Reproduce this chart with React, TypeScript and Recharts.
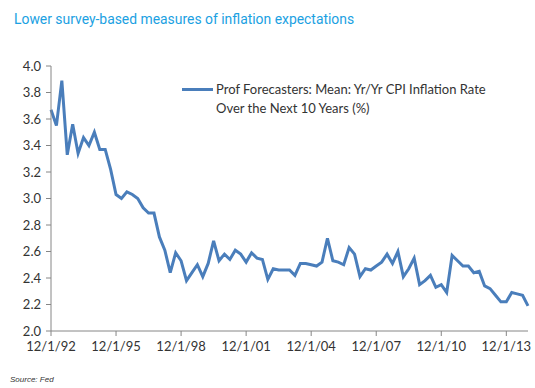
import { LineChart, Line, XAxis, YAxis } from 'recharts';

// SPF mean 10-year CPI inflation expectations, quarterly from 12/1/92
const cpi10: number[] = [
  3.67, 3.55, 3.89, 3.33, 3.56, 3.34, 3.46, 3.4, 3.5, 3.37, 3.37, 3.22,
  3.03, 3.0, 3.05, 3.03, 3.0, 2.93, 2.89, 2.89, 2.71, 2.61, 2.44, 2.59,
  2.53, 2.38, 2.44, 2.5, 2.41, 2.51, 2.68, 2.53, 2.58, 2.54, 2.61, 2.58,
  2.52, 2.59, 2.55, 2.54, 2.39, 2.47, 2.46, 2.46, 2.46, 2.42, 2.51, 2.51,
  2.5, 2.49, 2.52, 2.7, 2.53, 2.52, 2.5, 2.63, 2.58, 2.41, 2.47, 2.46,
  2.49, 2.52, 2.58, 2.51, 2.6, 2.41, 2.47, 2.55, 2.35, 2.38, 2.42, 2.33,
  2.35, 2.29, 2.57, 2.53, 2.49, 2.49, 2.44, 2.45, 2.34, 2.32, 2.27, 2.22,
  2.22, 2.29, 2.28, 2.27, 2.19,
];

const xTicks = ['12/1/92', '12/1/95', '12/1/98', '12/1/01', '12/1/04', '12/1/07', '12/1/10', '12/1/13'];
const yTicks = [2.0, 2.2, 2.4, 2.6, 2.8, 3.0, 3.2, 3.4, 3.6, 3.8, 4.0];

const legendLines = ['Prof Forecasters: Mean: Yr/Yr CPI Inflation Rate', 'Over the Next 10 Years (%)'];

// quarterly date labels, m/1/yy, starting 12/1/92
function quarterLabel(i: number): string {
  const m0 = 11 + i * 3;
  const year = 1992 + Math.floor(m0 / 12);
  const month = (m0 % 12) + 1;
  return `${month}/1/${String(year % 100).padStart(2, '0')}`;
}

const data = cpi10.map((v, i) => ({ date: quarterLabel(i), value: v }));

const LINE = '#4a7ebb';
const AXIS = '#868686';
const FONT = 'Lato, "Open Sans", sans-serif';

export default function App() {
  return (
    <div style={{ position: 'absolute', left: 0, top: 0, width: 535, height: 388, background: '#fff' }}>
      <div
        style={{
          position: 'absolute',
          left: 14,
          top: 11,
          fontFamily: 'Roboto, sans-serif',
          fontSize: 13.9,
          color: '#1ba1e2',
          whiteSpace: 'nowrap',
        }}
      >
        Lower survey-based measures of inflation expectations
      </div>
      <LineChart width={535} height={388} data={data} margin={{ top: 66, right: 7, bottom: 27, left: 0 }}>
        <XAxis
          dataKey="date"
          ticks={xTicks}
          interval={0}
          height={30}
          stroke={AXIS}
          tickSize={5}
          tick={{ fontSize: 13, fill: '#333', fontFamily: FONT }}
          tickMargin={6}
        />
        <YAxis
          domain={[2, 4]}
          ticks={yTicks}
          interval={0}
          width={51}
          stroke={AXIS}
          tickSize={5}
          tick={{ fontSize: 13, fill: '#333', fontFamily: FONT }}
          tickMargin={5}
          tickFormatter={(v: number) => v.toFixed(1)}
        />
        <Line
          type="linear"
          dataKey="value"
          stroke={LINE}
          strokeWidth={3}
          dot={false}
          isAnimationActive={false}
        />
      </LineChart>
      <div
        style={{
          position: 'absolute',
          left: 182,
          top: 80,
          display: 'flex',
          alignItems: 'flex-start',
          fontFamily: FONT,
          fontSize: 13,
          color: '#333',
          lineHeight: '19px',
        }}
      >
        <svg width={34} height={19} style={{ flex: 'none' }}>
          <line x1={0} y1={9.5} x2={31} y2={9.5} stroke={LINE} strokeWidth={3} />
        </svg>
        <div style={{ whiteSpace: 'nowrap' }}>
          {legendLines[0]}
          <br />
          {legendLines[1]}
        </div>
      </div>
      <div
        style={{
          position: 'absolute',
          left: 10,
          top: 375,
          fontFamily: '"Liberation Sans", Arial, sans-serif',
          fontStyle: 'italic',
          fontSize: 8,
          color: '#333',
        }}
      >
        Source: Fed
      </div>
    </div>
  );
}
